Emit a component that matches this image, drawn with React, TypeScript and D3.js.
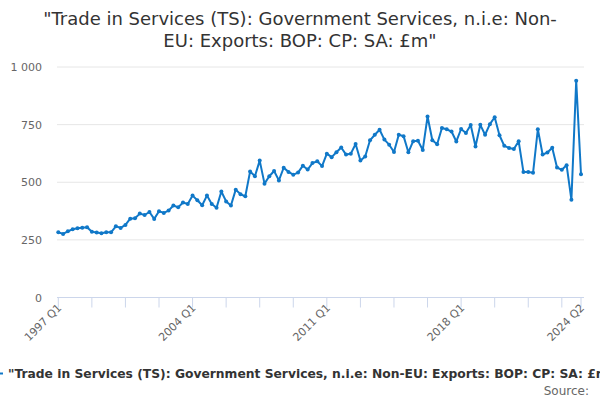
// Trade in Services: Government Services n.i.e, Non-EU exports — quarterly line.
// Highcharts-style look rebuilt with d3 scales: faint grid, light axis, dots on line.
import * as d3 from "d3";

const W = 600;
const H = 400;
const FONT = '"DejaVu Sans", sans-serif';
const LINE_COLOR = "#1078c8";

// quarters 1997 Q1 .. 2024 Q2
const FIRST_YEAR = 1997;
const QUARTER_COUNT = 110;
const categories: string[] = Array.from(
  { length: QUARTER_COUNT },
  (_, i) => `${FIRST_YEAR + Math.floor(i / 4)} Q${(i % 4) + 1}`
);

// £m
const exportsValues = [
  283, 276, 287, 296, 300, 303, 305, 285, 282, 279, 283, 283, 309, 302, 315, 342,
  344, 364, 358, 371, 341, 374, 367, 377, 399, 391, 412, 406, 442, 422, 400, 442,
  406, 389, 460, 417, 399, 468, 448, 439, 547, 526, 594, 494, 526, 549, 508, 563,
  545, 533, 542, 572, 555, 583, 591, 570, 624, 609, 630, 651, 620, 624, 666, 594,
  612, 682, 706, 728, 685, 663, 631, 706, 700, 630, 678, 680, 640, 785, 682, 665,
  735, 730, 720, 677, 731, 714, 748, 655, 749, 706, 752, 782, 704, 658, 649, 644,
  678, 544, 544, 541, 730, 620, 629, 650, 564, 554, 574, 424, 940, 535,
];

const yTicks = [0, 250, 500, 750, 1000];
const xLabels = ["1997 Q1", "2004 Q1", "2011 Q1", "2018 Q1", "2024 Q2"];
const TICK_EVERY = 7;

const TITLE_LINES = [
  '"Trade in Services (TS): Government Services, n.i.e: Non-',
  'EU: Exports: BOP: CP: SA: £m"',
];
const LEGEND_TEXT =
  '"Trade in Services (TS): Government Services, n.i.e: Non-EU: Exports: BOP: CP: SA: £m"';

const plot = { left: 57, right: 584, top: 67, bottom: 297.5 };

export default function App() {
  const x = d3
    .scalePoint<string>()
    .domain(categories)
    .range([58.3, 581]);
  const y = d3.scaleLinear().domain([0, 1000]).range([plot.bottom, plot.top]);

  const line = d3
    .line<number>()
    .x((_, i) => x(categories[i]) ?? 0)
    .y((d) => y(d));

  const tickCats = categories.filter(
    (_, i) => i % TICK_EVERY === 0 || i === categories.length - 1
  );
  const fmt = (v: number) => d3.format(",")(v).replace(/,/g, " ");

  return (
    <svg
      width={W}
      height={H}
      viewBox={`0 0 ${W} ${H}`}
      style={{ position: "absolute", left: 0, top: 0, background: "#fff" }}
      fontFamily={FONT}
    >
      {/* title */}
      {TITLE_LINES.map((t, i) => (
        <text key={t} x={W / 2} y={25 + i * 22} textAnchor="middle" fontSize={18} fill="#333">
          {t}
        </text>
      ))}

      {/* y grid + labels */}
      {yTicks
        .filter((v) => v > 0)
        .map((v) => (
          <line key={v} x1={plot.left} x2={plot.right} y1={y(v)} y2={y(v)} stroke="#e6e6e6" />
        ))}
      {yTicks.map((v) => (
        <text key={`l${v}`} x={42} y={y(v) + 4} textAnchor="end" fontSize={11} fill="#666">
          {fmt(v)}
        </text>
      ))}

      {/* x axis */}
      <line x1={plot.left} x2={plot.right} y1={plot.bottom} y2={plot.bottom} stroke="#ccd6eb" />
      {tickCats.map((c) => (
        <line
          key={c}
          x1={x(c)}
          x2={x(c)}
          y1={plot.bottom}
          y2={plot.bottom + 10}
          stroke="#ccd6eb"
        />
      ))}
      {xLabels.map((c) => (
        <text
          key={c}
          transform={`translate(${(x(c) ?? 0) + 4},${plot.bottom + 11}) rotate(-45)`}
          textAnchor="end"
          fontSize={11}
          fill="#666"
        >
          {c}
        </text>
      ))}

      {/* series */}
      <path d={line(exportsValues) ?? ""} fill="none" stroke={LINE_COLOR} strokeWidth={2} strokeLinejoin="round" />
      {exportsValues.map((v, i) => (
        <circle key={i} cx={x(categories[i])} cy={y(v)} r={2} fill={LINE_COLOR} />
      ))}

      {/* legend (wider than the chart, clipped both sides) */}
      <line x1={-13} x2={3} y1={373.5} y2={373.5} stroke={LINE_COLOR} strokeWidth={2} />
      <text x={8} y={377.5} fontSize={12.3} fontWeight="bold" fill="#333">
        {LEGEND_TEXT}
      </text>

      {/* credits */}
      <text x={589} y={395} textAnchor="end" fontSize={12} fill="#666">
        Source:
      </text>
    </svg>
  );
}
